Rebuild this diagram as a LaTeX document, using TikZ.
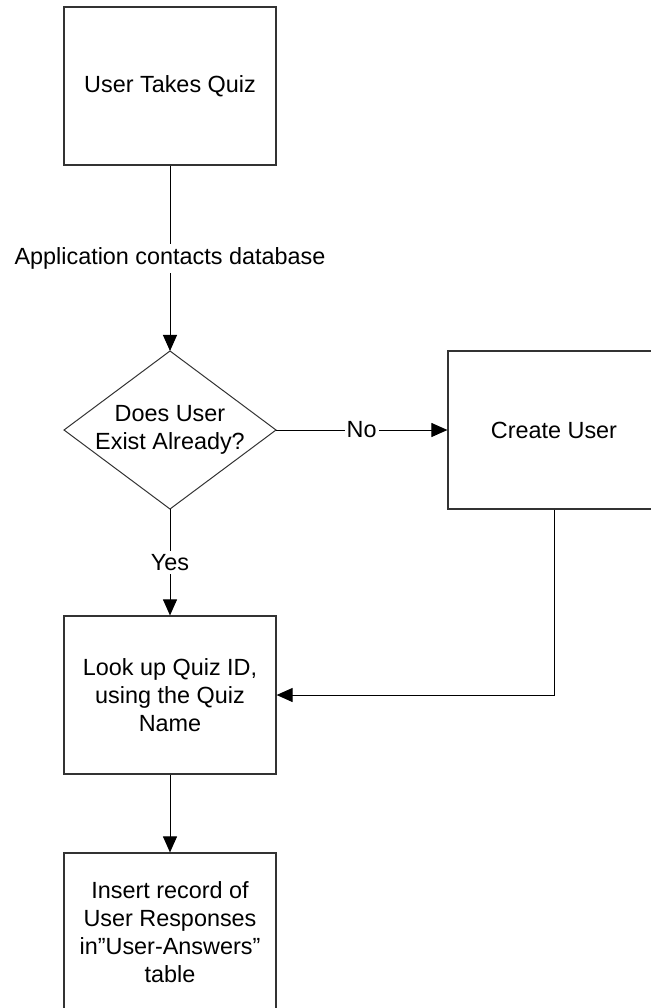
\documentclass[tikz,border=0pt]{standalone}
\usepackage{fontspec}
\setmainfont{Liberation Sans}
\usetikzlibrary{shapes.geometric,arrows.meta}

\begin{document}
\begin{tikzpicture}[x=1pt,y=-1pt,
	font=\fontsize{23.4}{28}\selectfont,
	etape/.style={draw=black!80,line width=1.2pt,rectangle,minimum width=212pt,minimum height=158pt,align=center,inner sep=0pt},
	test/.style={draw=black!80,line width=1pt,diamond,minimum width=212pt,minimum height=158pt,inner sep=0pt,outer sep=0pt},
	fleche/.style={line width=1pt,-{Triangle[length=16pt,width=14pt]}},
	etiq/.style={fill=white,inner xsep=2pt}]
			          %\draw[help lines] (0,0) grid (650,1008);
			          \useasboundingbox (0,0) rectangle (650,1008);
			          \node[etape] (Q) at (170,86) {User Takes Quiz};
			          \node[test,label={[align=center]center:Does User\\Exist Already?}] (E) at (170,430) {};
			          \node[etape] (C) at (554,430) {Create User};
			          \node[etape] (L) at (170,695) {Look up Quiz ID,\\using the Quiz\\Name};
			          \node[etape] (I) at (170,932) {Insert record of\\User Responses\\in''User-Answers''\\table};
			          \draw[fleche] (Q) -- node[etiq] {Application contacts database} (E);
			          \draw[fleche] (E) -- node[etiq] {No} (C);
			          \draw[fleche] (E) -- node[etiq] {Yes} (L);
			          \draw[fleche] (C.south) |- (L.east);
			          \draw[fleche] (L) -- (I);
				  \end{tikzpicture}
\end{document}
